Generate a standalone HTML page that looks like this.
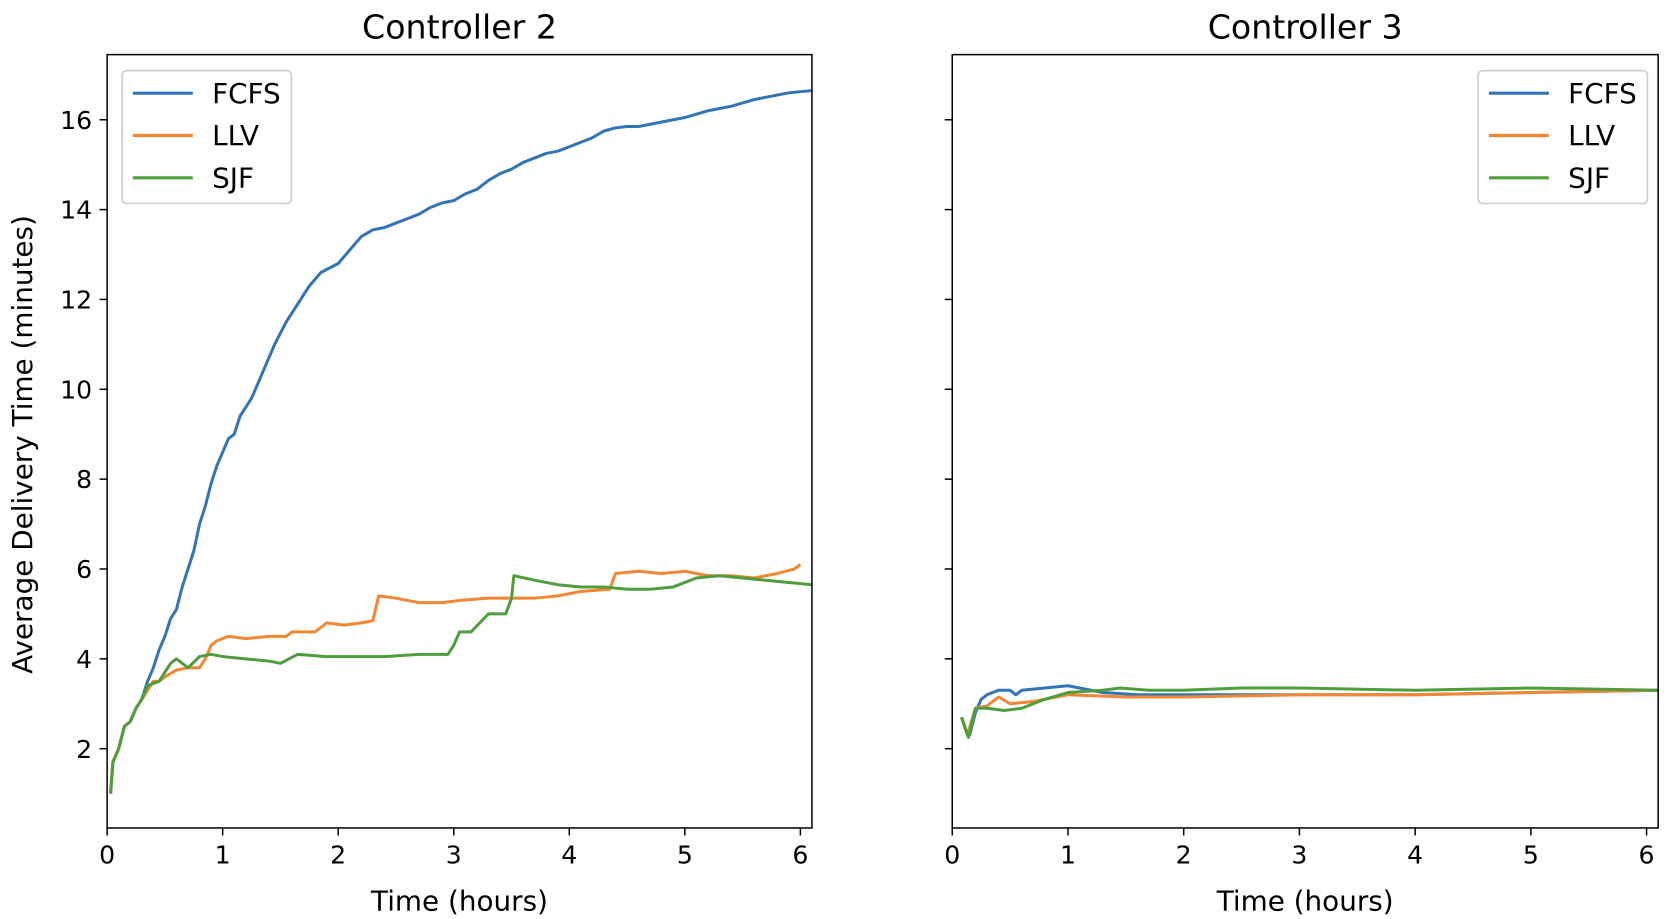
<!DOCTYPE html>
<html><head><meta charset="utf-8"><style>
body{margin:0;background:#fff}
svg{display:block;font-family:"DejaVu Sans","Liberation Sans",sans-serif}
</style></head><body>
<svg id="chart" width="1671" height="919" viewBox="0 0 1560 858" preserveAspectRatio="none"></svg>
<script>
const seriesNames=["FCFS","LLV","SJF"];
const colors=["#3274b5","#f28633","#4f9d3c"];
const xTicks=[0,1,2,3,4,5,6];
const yTicks=[2,4,6,8,10,12,14,16];
const c2FCFS=[[0.03,1],[0.05,1.7],[0.1,2],[0.15,2.5],[0.2,2.6],[0.25,2.9],[0.3,3.1],[0.35,3.5],[0.4,3.8],[0.45,4.2],[0.5,4.5],[0.55,4.9],[0.6,5.1],[0.65,5.6],[0.7,6.0],[0.75,6.4],[0.8,7.0],[0.85,7.4],[0.9,7.9],[0.95,8.3],[1.0,8.6],[1.05,8.9],[1.1,9.0],[1.15,9.4],[1.25,9.8],[1.35,10.4],[1.45,11.0],[1.55,11.5],[1.65,11.9],[1.75,12.3],[1.85,12.6],[2.0,12.8],[2.1,13.1],[2.2,13.4],[2.3,13.55],[2.4,13.6],[2.5,13.7],[2.6,13.8],[2.7,13.9],[2.8,14.05],[2.9,14.15],[3.0,14.2],[3.1,14.35],[3.2,14.45],[3.3,14.65],[3.4,14.8],[3.5,14.9],[3.6,15.05],[3.7,15.15],[3.8,15.25],[3.9,15.3],[4.0,15.4],[4.1,15.5],[4.2,15.6],[4.3,15.75],[4.4,15.82],[4.5,15.85],[4.6,15.85],[4.7,15.9],[4.8,15.95],[4.9,16.0],[5.0,16.05],[5.2,16.2],[5.4,16.3],[5.6,16.45],[5.8,16.55],[5.9,16.6],[6.1,16.65]];
const c2LLV=[[0.03,1],[0.05,1.7],[0.1,2],[0.15,2.5],[0.2,2.6],[0.25,2.9],[0.3,3.1],[0.35,3.3],[0.4,3.5],[0.45,3.5],[0.5,3.6],[0.6,3.75],[0.7,3.8],[0.8,3.8],[0.85,4.0],[0.9,4.3],[0.95,4.4],[1.05,4.5],[1.2,4.45],[1.4,4.5],[1.55,4.5],[1.6,4.6],[1.8,4.6],[1.9,4.8],[2.05,4.75],[2.2,4.8],[2.3,4.85],[2.35,5.4],[2.5,5.35],[2.7,5.25],[2.9,5.25],[3.05,5.3],[3.3,5.35],[3.5,5.35],[3.7,5.35],[3.9,5.4],[4.1,5.5],[4.35,5.55],[4.4,5.9],[4.6,5.95],[4.8,5.9],[5.0,5.95],[5.2,5.85],[5.4,5.85],[5.6,5.8],[5.8,5.9],[5.95,6.0],[6.0,6.1]];
const c2SJF=[[0.03,1],[0.05,1.7],[0.1,2],[0.15,2.5],[0.2,2.6],[0.25,2.9],[0.3,3.1],[0.35,3.4],[0.45,3.5],[0.5,3.7],[0.55,3.9],[0.6,4.0],[0.65,3.9],[0.7,3.8],[0.8,4.05],[0.9,4.1],[1.0,4.05],[1.2,4.0],[1.4,3.95],[1.5,3.9],[1.65,4.1],[1.9,4.05],[2.1,4.05],[2.4,4.05],[2.7,4.1],[2.8,4.1],[2.95,4.1],[3.0,4.3],[3.05,4.6],[3.15,4.6],[3.3,5.0],[3.45,5.0],[3.5,5.35],[3.52,5.85],[3.7,5.75],[3.9,5.65],[4.1,5.6],[4.3,5.6],[4.5,5.55],[4.7,5.55],[4.9,5.6],[5.1,5.8],[5.3,5.85],[5.5,5.8],[5.7,5.75],[5.9,5.7],[6.1,5.65]];
const c3FCFS=[[0.08,2.7],[0.12,2.4],[0.15,2.3],[0.2,2.8],[0.25,3.1],[0.3,3.2],[0.4,3.3],[0.5,3.3],[0.55,3.2],[0.6,3.3],[0.8,3.35],[1.0,3.4],[1.1,3.35],[1.3,3.25],[1.6,3.2],[2.0,3.2],[3,3.2],[4,3.2],[5,3.25],[6.1,3.3]];
const c3LLV=[[0.08,2.7],[0.13,2.3],[0.2,2.9],[0.3,2.95],[0.4,3.15],[0.5,3.0],[0.7,3.05],[1.0,3.2],[1.5,3.15],[2,3.15],[3,3.2],[4,3.2],[5,3.25],[6.1,3.3]];
const c3SJF=[[0.08,2.7],[0.14,2.25],[0.2,2.9],[0.3,2.9],[0.45,2.85],[0.6,2.9],[0.8,3.1],[1.0,3.25],[1.3,3.3],[1.45,3.35],[1.7,3.3],[2,3.3],[2.5,3.35],[3,3.35],[4,3.3],[5,3.35],[6.1,3.3]];

const NS="http://www.w3.org/2000/svg";
const svg=document.getElementById("chart");
function mk(tag,attrs,parent){const e=document.createElementNS(NS,tag);for(const k in attrs)e.setAttribute(k,attrs[k]);(parent||svg).appendChild(e);return e;}
const plotTop=51,plotBot=773,yMin=0.235,yMax=17.45,xMax=6.1;
function yS(v){return plotBot-(v-yMin)/(yMax-yMin)*(plotBot-plotTop);}
function panel(x0,x1,title,data,legendX,showY,key){
  const xS=v=>x0+v/xMax*(x1-x0);
  const g=mk("g",{});
  
  
  data.forEach((d,i)=>{
    const p=mk("polyline",{points:d.map(q=>xS(q[0])+","+yS(q[1])).join(" "),fill:"none",stroke:colors[i],"stroke-width":2.8,"stroke-linejoin":"round"},g);
    
    
  });
  const fr=mk("rect",{x:x0,y:plotTop,width:x1-x0,height:plotBot-plotTop,fill:"none",stroke:"#000","stroke-width":1.4},g);
  
  
  xTicks.forEach(t=>{
    mk("line",{x1:xS(t),x2:xS(t),y1:plotBot,y2:plotBot+7,stroke:"#000","stroke-width":1.4},g);
    const tx=mk("text",{x:xS(t),y:plotBot+33,"text-anchor":"middle","font-size":23.5},g);
    tx.textContent=t;
    
    
  });
  yTicks.forEach(t=>{
    mk("line",{x1:x0-7,x2:x0,y1:yS(t),y2:yS(t),stroke:"#000","stroke-width":1.4},g);
    if(showY){const tx=mk("text",{x:x0-14,y:yS(t)+8.5,"text-anchor":"end","font-size":23.5},g);tx.textContent=t;
      
      }
  });
  const tt=mk("text",{x:(x0+x1)/2,y:36,"text-anchor":"middle","font-size":31},g);
  tt.textContent=title;
  
  
  const xl=mk("text",{x:(x0+x1)/2,y:850,"text-anchor":"middle","font-size":26},g);
  xl.textContent="Time (hours)";
  
  
  const lg=mk("g",{},g);
  
  
  mk("rect",{x:legendX,y:66,width:158,height:124,rx:4,fill:"#fff","fill-opacity":0.8,stroke:"#ccc","stroke-width":1.5},lg);
  seriesNames.forEach((n,i)=>{
    const yy=87+i*39.5;
    mk("line",{x1:legendX+10,x2:legendX+66,y1:yy,y2:yy,stroke:colors[i],"stroke-width":3},lg);
    const t=mk("text",{x:legendX+84,y:yy+9,"font-size":26},lg);
    t.textContent=n;
    
    
  });
}
panel(100,758,"Controller 2",[c2FCFS,c2LLV,c2SJF],114,true,"controller-2");
panel(889,1548,"Controller 3",[c3FCFS,c3LLV,c3SJF],1380,false,"controller-3");
const yl=mk("text",{x:0,y:0,"text-anchor":"middle","font-size":26,transform:"translate(30,415) rotate(-90)"});
yl.textContent="Average Delivery Time (minutes)";


</script>
</body></html>
